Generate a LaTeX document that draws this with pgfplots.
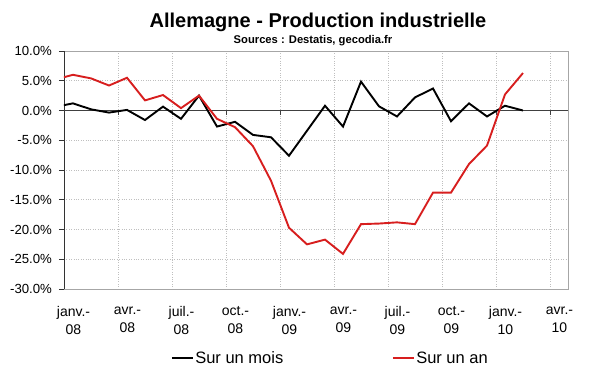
\documentclass[border=0pt]{standalone}
\usepackage{pgfplots}
\pgfplotsset{compat=1.18}
\usetikzlibrary{calc}
\usepackage{fontspec}
\setmainfont{Liberation Sans}
\definecolor{myred}{RGB}{215,30,30}
\begin{document}
\begin{tikzpicture}[x=1pt,y=1pt]
\begin{axis}[
  scale only axis, width=504pt, height=238pt,
  xmin=0, xmax=28, ymin=-30, ymax=10,
  xtick={0,3,...,27},
  xticklabels={{janv.-\\08},{avr.-\\08},{juil.-\\08},{oct.-\\08},{janv.-\\09},{avr.-\\09},{juil.-\\09},{oct.-\\09},{janv.-\\10},{avr.-\\10}},
  xticklabel style={align=center, font=\fontsize{14}{18}\selectfont, yshift=-9pt, xshift=9.5pt},
  ytick={-30,-25,...,10},
  yticklabels={-30.0\%,-25.0\%,-20.0\%,-15.0\%,-10.0\%,-5.0\%,0.0\%,5.0\%,10.0\%},
  yticklabel style={font=\fontsize{13.2}{15}\selectfont, xshift=-3.5pt},
  grid=major,
  major grid style={dotted, gray!50, line width=0.8pt},
  axis line style={gray!70, line width=0.8pt},
  xtick style={draw=none},
  ytick style={black!80, line width=0.8pt},
  ytick pos=left, tick align=outside, major tick length=5pt,
  legend style={at={(0.528,-0.29)}, anchor=center, draw=none, fill=none,
    font=\fontsize{16.5}{19}\selectfont,
    nodes={inner xsep=1.5pt},
    /tikz/every even column/.append style={column sep=107pt}},
  legend columns=2,
  legend image code/.code={\draw[#1] (0pt,0pt) -- (21pt,0pt);},
]
\coordinate (LL) at (rel axis cs:0,0);
\draw[black!80, line width=0.9pt] (rel axis cs:0,0) -- (rel axis cs:0,1);
\draw[black!75, line width=0.9pt] (axis cs:0,0) -- (axis cs:28,0);
\pgfplotsinvokeforeach{3,6,...,27}{\draw[black!75, line width=0.8pt] (axis cs:#1,0) -- ++(0pt,-4pt);}
\addplot[black, line width=1.9pt] coordinates {
(-0.5,0.6)(0.5,1.2)(1.5,0.2)(2.5,-0.35)(3.5,0.1)(4.5,-1.6)(5.5,0.65)(6.5,-1.4)(7.5,2.5)(8.5,-2.7)(9.5,-1.9)(10.5,-4.1)(11.5,-4.5)(12.5,-7.6)(13.5,-3.4)(14.5,0.8)(15.5,-2.7)(16.5,4.85)(17.5,0.7)(18.5,-1.0)(19.5,2.2)(20.5,3.7)(21.5,-1.8)(22.5,1.2)(23.5,-1.0)(24.5,0.8)(25.5,0.0)
};
\addlegendentry{Sur un mois}
\addplot[myred, line width=1.9pt] coordinates {
(-0.5,5.2)(0.5,6.0)(1.5,5.4)(2.5,4.2)(3.5,5.5)(4.5,1.7)(5.5,2.6)(6.5,0.4)(7.5,2.5)(8.5,-1.4)(9.5,-2.8)(10.5,-6.0)(11.5,-11.8)(12.5,-19.7)(13.5,-22.5)(14.5,-21.7)(15.5,-24.1)(16.5,-19.1)(17.5,-19.0)(18.5,-18.8)(19.5,-19.1)(20.5,-13.8)(21.5,-13.8)(22.5,-9.0)(23.5,-5.9)(24.5,2.7)(25.5,6.3)
};
\addlegendentry{Sur un an}
\end{axis}
\pgfresetboundingbox
\path[use as bounding box] (LL) ++(-64pt,-83pt) rectangle ++(600pt,372pt);
\node[font=\fontsize{20}{24}\selectfont\bfseries] at ($(LL)+(254pt,267pt)$) {Allemagne - Production industrielle};
\node[font=\fontsize{11.2}{13}\selectfont\bfseries] at ($(LL)+(249pt,248pt)$) {Sources : Destatis, gecodia.fr};
\end{tikzpicture}
\end{document}
